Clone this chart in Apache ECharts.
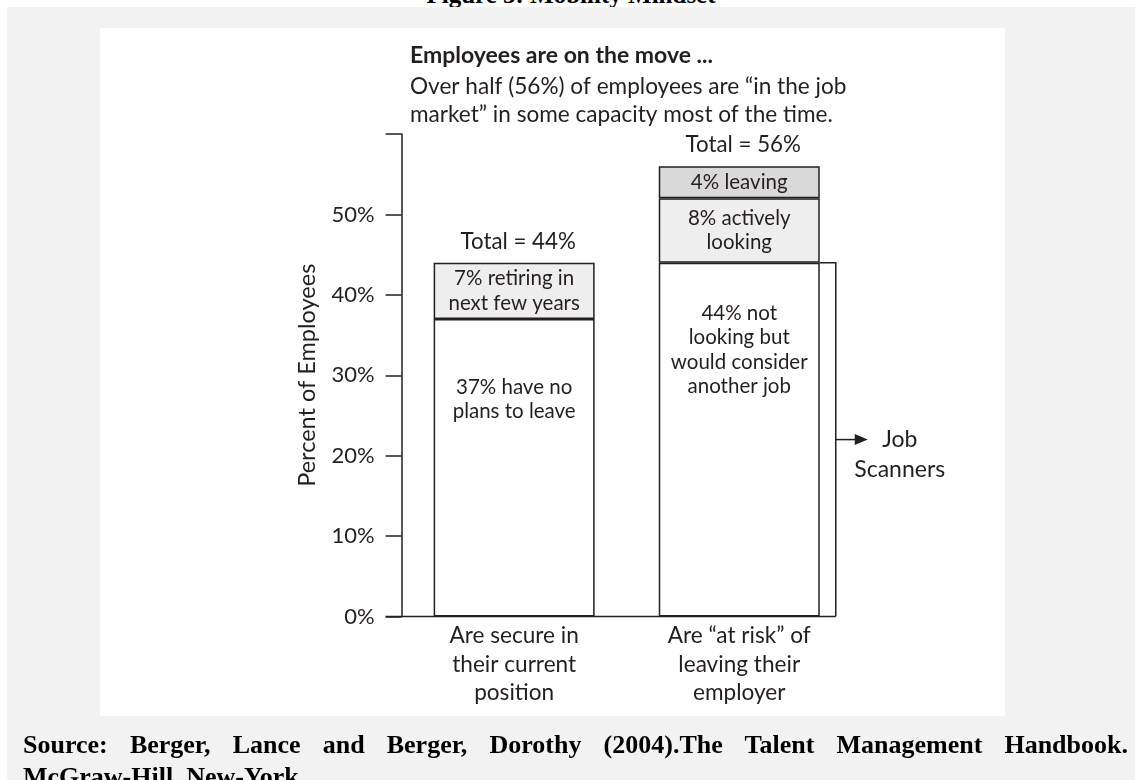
<!DOCTYPE html>
<html>
<head>
<meta charset="utf-8">
<script src="https://cdn.jsdelivr.net/npm/echarts@6/dist/echarts.min.js"></script>
<style>
  body { margin: 0; background: #fff; width: 1135px; height: 780px; overflow: hidden; position: relative; }
  #caption { position: absolute; left: 7px; top: -18px; width: 1128px; text-align: center; font: bold 25px "Liberation Serif"; line-height: 26px; color: #000; }
  #page { position: absolute; left: 7px; top: 7px; width: 1128px; height: 773px; background: #f2f2f2; }
  #panel { position: absolute; left: 100px; top: 28px; width: 905px; height: 688px; background: #fff; }
  #chart { position: absolute; left: 0; top: 0; width: 1135px; height: 780px; }
  #source { position: absolute; left: 23px; top: 729px; width: 1105px; font: bold 26px "Liberation Serif"; line-height: 32px; color: #000; }
  #source .l1 { text-align: justify; text-align-last: justify; }
</style>
</head>
<body>
<div id="caption">Figure 3: Mobility Mindset</div>
<div id="page"></div>
<div id="panel"></div>
<div id="chart"></div>
<div id="source">
  <div class="l1">Source: Berger, Lance and Berger, Dorothy (2004).The Talent Management Handbook.</div>
  <div>McGraw-Hill, New-York.</div>
</div>
<script>
// chart data
var categories = ['Are secure in\ntheir current\nposition', 'Are \u201cat risk\u201d of\nleaving their\nemployer'];
var baseValues = [37, 44];
var midValues = [7, 8];
var topValues = [null, 4];
var totals = [44, 56];
var baseLabels = ['37% have no\nplans to leave', '44% not\nlooking but\nwould consider\nanother job'];
var midLabels = ['7% retiring in\nnext few years', '8% actively\nlooking'];
var topLabels = ['', '4% leaving'];
var yTicks = [0, 10, 20, 30, 40, 50, 60];
var yLabels = [0, 10, 20, 30, 40, 50];

var FONT = 'Lato';
var INK = '#231f20';
var BAR_W = 161;

var chart = echarts.init(document.getElementById('chart'), null, { renderer: 'canvas' });

function segStyle(color) {
  return { color: color, borderColor: INK, borderWidth: 1.5 };
}
var labelBase = { show: true, color: INK, fontFamily: FONT, fontSize: 20.5, lineHeight: 24.5 };

var option = {
  backgroundColor: 'transparent',
  animation: false,
  title: {
    left: 410,
    top: 42,
    padding: 0,
    text: 'Employees are on the move ...',
    textStyle: { fontFamily: FONT, fontSize: 23, fontWeight: 'bold', color: INK, lineHeight: 28 },
    subtext: 'Over half (56%) of employees are \u201cin the job\nmarket\u201d in some capacity most of the time.',
    subtextStyle: { fontFamily: FONT, fontSize: 22.6, color: INK, lineHeight: 28 },
    itemGap: 3
  },
  grid: { left: 401.6, right: 283.2, top: 134, bottom: 163.5 },
  xAxis: {
    type: 'category',
    data: categories,
    axisLine: { show: false },
    axisTick: { show: false },
    axisLabel: { color: INK, fontFamily: FONT, fontSize: 22.6, lineHeight: 28.5, margin: 5 }
  },
  yAxis: {
    type: 'value',
    min: 0,
    max: 60,
    interval: 10,
    name: 'Percent of Employees',
    nameLocation: 'middle',
    nameGap: 82,
    nameTextStyle: { color: INK, fontFamily: FONT, fontSize: 23.5 },
    axisLine: { show: true, lineStyle: { color: INK, width: 1.5 } },
    axisTick: { show: true, length: 16, customValues: yTicks, lineStyle: { color: INK, width: 1.5 } },
    axisLabel: { color: INK, fontFamily: FONT, fontSize: 22, margin: 27, customValues: yLabels, formatter: '{value}%' },
    splitLine: { show: false }
  },
  series: [
    {
      name: 'base', type: 'bar', stack: 's', barWidth: BAR_W,
      itemStyle: segStyle('#ffffff'),
      data: baseValues.map(function (v, i) {
        return { value: v, label: Object.assign({}, labelBase, { position: 'insideTop', distance: i === 0 ? 56 : 38, formatter: baseLabels[i] }) };
      })
    },
    {
      name: 'mid', type: 'bar', stack: 's', barWidth: BAR_W,
      itemStyle: segStyle('#eeeeee'),
      data: midValues.map(function (v, i) {
        return { value: v, label: Object.assign({}, labelBase, { position: 'inside', formatter: midLabels[i] }) };
      })
    },
    {
      name: 'top', type: 'bar', stack: 's', barWidth: BAR_W,
      itemStyle: segStyle('#d9d9d9'),
      data: topValues.map(function (v, i) {
        return { value: v, label: Object.assign({}, labelBase, { position: 'inside', formatter: topLabels[i] }) };
      })
    },
    {
      // "Total = xx%" above each bar
      name: 'totals', type: 'custom', silent: true,
      data: totals.map(function (t, i) { return [i, t]; }),
      renderItem: function (params, api) {
        var p = api.coord([api.value(0), api.value(1)]);
        return {
          type: 'text',
          style: {
            x: p[0] + 4, y: p[1] - 10, text: 'Total = ' + api.value(1) + '%',
            fill: INK, font: '22.3px ' + FONT, textAlign: 'center', textVerticalAlign: 'bottom'
          }
        };
      }
    },
    {
      // baseline + bracket round the job scanners bar
      name: 'bracket', type: 'custom', silent: true,
      data: [[1, baseValues[1]]],
      renderItem: function (params, api) {
        var cs = params.coordSys;
        var top = api.coord([api.value(0), api.value(1)]);
        var zero = api.coord([api.value(0), 0]);
        var mid = api.coord([api.value(0), api.value(1) / 2]);
        var right = top[0] + BAR_W / 2;
        var bx = right + 16;
        var ls = { stroke: INK, lineWidth: 1.5, fill: null };
        return {
          type: 'group',
          children: [
            { type: 'polyline', shape: { points: [[right, top[1]], [bx, top[1]], [bx, zero[1]]] }, style: ls },
            { type: 'line', shape: { x1: cs.x - 16, y1: zero[1], x2: bx, y2: zero[1] }, style: ls },
            { type: 'line', shape: { x1: bx, y1: mid[1], x2: bx + 20, y2: mid[1] }, style: ls },
            { type: 'polygon', shape: { points: [[bx + 19, mid[1] - 5.5], [bx + 32, mid[1]], [bx + 19, mid[1] + 5.5]] }, style: { fill: INK } },
            {
              type: 'text',
              style: {
                x: bx + 64, y: mid[1] - 15, text: 'Job\nScanners', fill: INK,
                font: '23px ' + FONT, textAlign: 'center', textVerticalAlign: 'top', lineHeight: 30
              }
            }
          ]
        };
      }
    }
  ]
};
chart.setOption(option);
</script>
</body>
</html>
